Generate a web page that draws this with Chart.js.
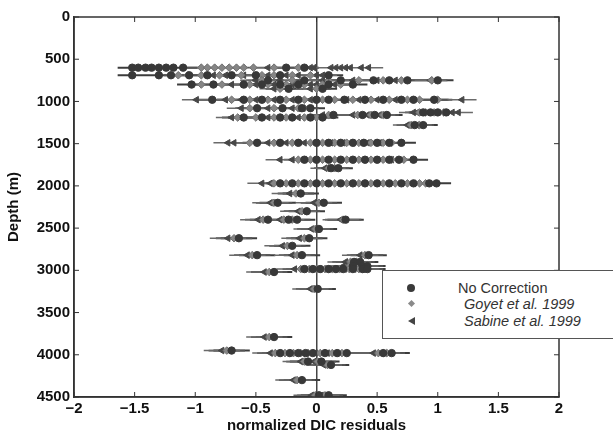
<!DOCTYPE html>
<html>
<head>
<meta charset="utf-8">
<script src="https://cdn.jsdelivr.net/npm/chart.js@4.4.1/dist/chart.umd.min.js"></script>
<style>
html, body { margin: 0; padding: 0; background: #fff; }
#wrap { position: relative; width: 613px; height: 435px; overflow: hidden; }
#grafico { filter: blur(0.35px); }
#legend { position: absolute; left: 382px; top: 270px; width: 240px; height: 67px; border: 1px solid #555; background: #fff;
  font-family: "Liberation Sans", Arial, sans-serif; font-size: 14.5px; color: #333; }
#legend .txt { position: absolute; line-height: 16px; white-space: nowrap; }
#legend .it { font-style: italic; }
.mk { position: absolute; }
.mk.circ { width: 8px; height: 8px; border-radius: 50%; background: #3a3a3a; left: 24px; top: 13px; }
.mk.diam { width: 5px; height: 5px; background: #8a8a8a; transform: rotate(45deg); left: 26px; top: 30px; }
.mk.tri { width: 0; height: 0; border-top: 4px solid transparent; border-bottom: 4px solid transparent; border-right: 7px solid #444; left: 25px; top: 46px; }
</style>
</head>
<body>
<div id="wrap">
  <canvas id="grafico" width="613" height="435"></canvas>
  <div id="legend">
    <span class="mk circ"></span><span class="txt" style="left:75px;top:9px;">No Correction</span>
    <span class="mk diam"></span><span class="txt it" style="left:81px;top:25px;">Goyet et al. 1999</span>
    <span class="mk tri"></span><span class="txt it" style="left:81px;top:42px;">Sabine et al. 1999</span>
  </div>
</div>
<script>
// profundidad de cada fila de muestras (m)
var rowDepths = [600, 690, 750, 800, 850, 980, 1080, 1130, 1160, 1190, 1280, 1490, 1690, 1790, 1970,
    2090, 2200, 2300, 2400, 2510, 2620, 2710, 2820, 2900, 2950, 2985, 3020, 3220, 3790, 3950, 3980,
    4080, 4120, 4300, 4480];

// semiancho de la barra de error por fila
var rowErr = [0.12, 0.12, 0.13, 0.12, 0.12, 0.12, 0.12, 0.12, 0.13, 0.13, 0.12, 0.12, 0.12, 0.12, 0.12,
    0.15, 0.15, 0.15, 0.15, 0.15, 0.15, 0.15, 0.15, 0.15, 0.15, 0.15, 0.15, 0.15, 0.15, 0.15, 0.15,
    0.15, 0.15, 0.15, 0.15];

var noCorrection = [
    [-1.52, -1.47, -1.41, -1.36, -1.30, -1.24, -1.18, -1.10, -0.25, -0.10],
    [-1.52, -1.30, -1.20, -1.05, -0.90, -0.70, -0.50, -0.30, 0.10],
    [-0.40, -0.10, 0.20, 0.47, 0.60, 0.75, 1.00],
    [-1.03, -0.85, -0.60, -0.45, -0.30, -0.15, 0.10, 0.30],
    [-0.23, 0.05],
    [-0.86, -0.60, -0.45, -0.30, -0.15, 0.00, 0.10, 0.23, 0.40, 0.55, 0.70, 0.80, 0.97],
    [-0.49, -0.28, -0.12, -0.05],
    [0.88, 0.94, 1.00, 1.07],
    [0.14, 0.38, 0.48, 0.58],
    [-0.60, -0.45, -0.30, -0.20, -0.05, 0.05],
    [0.81, 0.88],
    [-0.49, -0.30, -0.15, 0.00, 0.10, 0.20, 0.30, 0.39, 0.50, 0.60, 0.70],
    [-0.10, 0.00, 0.10, 0.20, 0.30, 0.40, 0.50, 0.60, 0.68, 0.80],
    [0.12, 0.18],
    [-0.30, -0.20, -0.10, 0.00, 0.10, 0.20, 0.30, 0.40, 0.50, 0.60, 0.70, 0.80, 0.93, 0.99],
    [-0.13],
    [-0.32, 0.06],
    [-0.08],
    [-0.40, -0.23, -0.16, 0.24],
    [0.02],
    [-0.64, -0.06],
    [-0.20],
    [-0.49, -0.12, 0.43],
    [0.31, 0.36],
    [0.30, 0.38, 0.42],
    [-0.10, -0.03, 0.03, 0.10, 0.16, 0.22, 0.30, 0.38, 0.42],
    [-0.35],
    [0.01],
    [-0.35],
    [-0.70],
    [-0.30, -0.22, -0.15, -0.09, -0.03, 0.07, 0.17, 0.25, 0.55, 0.62],
    [-0.07, 0.04],
    [0.12],
    [-0.12],
    [0.02, 0.10]
];

var goyet1999 = [
    [-0.95, -0.90, -0.84, -0.78, -0.72, -0.66, -0.60, -0.52, -0.35, -0.15],
    [-1.14, -1.06, -0.95, -0.80, -0.62, -0.45, -0.35, -0.20, -0.05],
    [-0.45, -0.20, 0.10, 0.35, 0.55, 0.70, 0.95],
    [-0.95, -0.78, -0.55, -0.40, -0.25, -0.10, 0.05, 0.20],
    [-0.30, 0.00],
    [-0.70, -0.55, -0.40, -0.25, -0.10, 0.05, 0.15, 0.30, 0.45, 0.60, 0.75, 0.85, 1.00],
    [-0.55, -0.35, -0.15, -0.10],
    [0.85, 0.90, 0.97, 1.05],
    [0.10, 0.34, 0.45, 0.55],
    [-0.65, -0.50, -0.35, -0.25, -0.10, 0.00],
    [0.78, 0.85],
    [-0.55, -0.35, -0.20, -0.05, 0.05, 0.15, 0.25, 0.35, 0.45, 0.55, 0.62],
    [-0.15, -0.05, 0.05, 0.15, 0.25, 0.35, 0.45, 0.55, 0.62, 0.72],
    [0.10, 0.15],
    [-0.35, -0.25, -0.15, -0.05, 0.05, 0.15, 0.25, 0.35, 0.45, 0.55, 0.65, 0.75, 0.85, 0.90],
    [-0.17],
    [-0.35, 0.02],
    [-0.12],
    [-0.44, -0.27, -0.20, 0.22],
    [-0.01],
    [-0.68, -0.10],
    [-0.24],
    [-0.53, -0.16, 0.40],
    [0.28, 0.33],
    [0.27, 0.35, 0.40],
    [-0.13, -0.06, 0.00, 0.07, 0.13, 0.19, 0.27, 0.35, 0.40],
    [-0.39],
    [-0.02],
    [-0.39],
    [-0.74],
    [-0.34, -0.26, -0.19, -0.13, -0.07, 0.03, 0.13, 0.21, 0.51, 0.58],
    [-0.10, 0.01],
    [0.09],
    [-0.16],
    [-0.01, 0.07]
];

var sabine1999 = [
    [0.12, 0.16, 0.20, 0.24, 0.28, 0.37, 0.43, -0.02, -0.40, -0.05],
    [-0.85, -0.75, -0.60, -0.50, -0.40, -0.25, -0.15, 0.00, 0.05],
    [-0.50, -0.30, 0.05, 0.30, 0.50, 0.65, 0.94],
    [-0.70, -0.60, -0.50, -0.35, -0.20, -0.05, 0.00, 0.15],
    [-0.35, -0.05],
    [-0.99, -0.75, -0.62, -0.50, -0.35, -0.20, -0.05, 0.10, 0.25, 0.35, 0.50, 0.65, 1.20],
    [-0.62, -0.40, -0.20, -0.15],
    [0.80, 0.83, 1.12, 1.17],
    [0.05, 0.30, 0.42, 0.52],
    [-0.70, -0.62, -0.40, -0.30, -0.15, -0.05],
    [0.75, 0.83],
    [-0.73, -0.68, -0.40, -0.25, -0.10, 0.00, 0.12, 0.22, 0.30, 0.42, 0.52],
    [-0.30, -0.20, -0.10, 0.00, 0.10, 0.20, 0.30, 0.40, 0.50, 0.62],
    [0.07, 0.12],
    [-0.45, -0.38, -0.30, -0.20, -0.10, 0.00, 0.10, 0.20, 0.30, 0.40, 0.50, 0.60, 0.70, 0.80],
    [-0.22],
    [-0.38, -0.02],
    [-0.15],
    [-0.48, -0.30, -0.25, 0.20],
    [-0.04],
    [-0.73, -0.14],
    [-0.28],
    [-0.57, -0.20, 0.36],
    [0.24, 0.30],
    [0.22, 0.30, 0.36],
    [-0.18, -0.10, -0.04, 0.03, 0.09, 0.15, 0.23, 0.31, 0.37],
    [-0.43],
    [-0.05],
    [-0.43],
    [-0.78],
    [-0.38, -0.30, -0.23, -0.17, -0.11, -0.01, 0.09, 0.17, 0.47, 0.54],
    [-0.13, -0.02],
    [0.06],
    [-0.19],
    [-0.04, 0.04]
];

var xTicks = [-2, -1.5, -1, -0.5, 0, 0.5, 1, 1.5, 2];
var yTicks = [0, 500, 1000, 1500, 2000, 2500, 3000, 3500, 4000, 4500];

function puntos(serie) {
    var pts = [];
    rowDepths.forEach(function (d, i) {
        serie[i].forEach(function (v) { pts.push({ x: v, y: d }); });
    });
    return pts;
}

// barras de error: segmentos separados por un punto nulo
function barras(serie) {
    var pts = [];
    rowDepths.forEach(function (d, i) {
        serie[i].forEach(function (v) {
            pts.push({ x: v - rowErr[i], y: d }, { x: v + rowErr[i], y: d }, { x: v, y: null });
        });
    });
    return pts;
}

function barDataset(serie, color, width) {
    return {
        type: 'scatter', data: barras(serie), showLine: true, spanGaps: false,
        borderColor: color, borderWidth: width, pointRadius: 0, order: 10
    };
}

var fmt = function (v) { return (v < 0 ? '\u2212' : '') + Math.abs(v); };

// marco completo y marcas hacia dentro (estilo matlab)
var marco = {
    id: 'marco',
    afterDraw: function (chart) {
        var c = chart.ctx, a = chart.chartArea, sx = chart.scales.x, sy = chart.scales.y;
        c.save();
        c.strokeStyle = '#333';
        c.lineWidth = 1.5;
        c.strokeRect(a.left, a.top, a.right - a.left, a.bottom - a.top);
        c.lineWidth = 1;
        c.beginPath();
        xTicks.forEach(function (t) {
            var px = sx.getPixelForValue(t);
            c.moveTo(px, a.bottom); c.lineTo(px, a.bottom - 5);
            c.moveTo(px, a.top); c.lineTo(px, a.top + 5);
        });
        yTicks.forEach(function (t) {
            var py = sy.getPixelForValue(t);
            c.moveTo(a.left, py); c.lineTo(a.left + 5, py);
            c.moveTo(a.right, py); c.lineTo(a.right - 5, py);
        });
        c.stroke();
        c.restore();
    }
};

var ctx = document.getElementById('grafico').getContext('2d');
Chart.defaults.font.family = '"Liberation Sans", Arial, sans-serif';

new Chart(ctx, {
    type: 'scatter',
    data: {
        datasets: [
            barDataset(sabine1999, '#6a6a6a', 1.5),
            barDataset(goyet1999, '#555', 1.8),
            barDataset(noCorrection, '#3c3c3c', 2),
            {
                label: 'Sabine et al. 1999', data: puntos(sabine1999), pointStyle: 'triangle', rotation: -90,
                pointRadius: 3.8, backgroundColor: '#474747', borderColor: '#474747', borderWidth: 1, order: 3
            },
            {
                label: 'Goyet et al. 1999', data: puntos(goyet1999), pointStyle: 'rectRot',
                pointRadius: 3.8, backgroundColor: '#858585', borderColor: '#6f6f6f', borderWidth: 1, order: 2
            },
            {
                label: 'No Correction', data: puntos(noCorrection), pointStyle: 'circle',
                pointRadius: 3.7, backgroundColor: '#383838', borderColor: '#383838', borderWidth: 1, order: 1
            }
        ]
    },
    options: {
        responsive: false,
        animation: false,
        events: [],
        layout: { padding: { top: 17, right: 54, left: 5, bottom: 0 } },
        plugins: { legend: { display: false }, tooltip: { enabled: false } },
        scales: {
            x: {
                type: 'linear', min: -2, max: 2,
                afterFit: function (s) { s.height = 38; },
                afterBuildTicks: function (s) { s.ticks = xTicks.map(function (v) { return { value: v }; }); },
                ticks: { callback: fmt, color: '#111', font: { size: 15, weight: 'bold' }, padding: 3, maxRotation: 0 },
                grid: {
                    drawTicks: false, lineWidth: 1.5,
                    color: function (c) { return c.tick && c.tick.value === 0 ? '#444' : 'rgba(0,0,0,0)'; }
                },
                border: { display: true, color: '#333', width: 1.5 },
                title: { display: true, text: 'normalized DIC residuals', color: '#111', font: { size: 15, weight: 'bold' }, padding: 0 }
            },
            y: {
                type: 'linear', min: 0, max: 4500, reverse: true,
                afterFit: function (s) { s.width = 69; },
                afterBuildTicks: function (s) { s.ticks = yTicks.map(function (v) { return { value: v }; }); },
                ticks: { callback: function (v) { return String(v); }, color: '#111', font: { size: 15, weight: 'bold' }, padding: 4 },
                grid: { display: false, drawTicks: false },
                border: { display: true, color: '#333', width: 1.5 },
                title: { display: true, text: 'Depth (m)', color: '#111', font: { size: 15, weight: 'bold' }, padding: 0 }
            }
        }
    },
    plugins: [marco]
});
</script>
</body>
</html>
